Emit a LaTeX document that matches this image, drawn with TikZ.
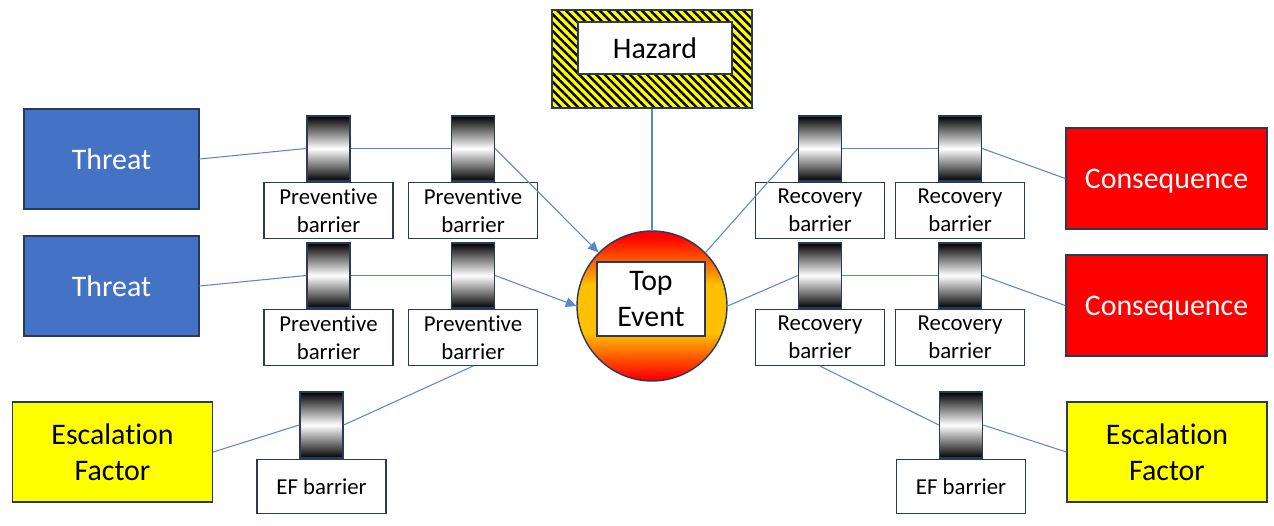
\documentclass[tikz,border=0pt]{standalone}
\usepackage{fontspec}
\setmainfont{Carlito}[Ligatures=NoCommon]
\usetikzlibrary{arrows.meta,positioning,patterns.meta}
\definecolor{threatblue}{HTML}{4472C4}
\definecolor{edgenavy}{HTML}{2B3A5A}
\definecolor{conred}{HTML}{FF0000}
\definecolor{efyellow}{HTML}{FFFF00}
\definecolor{linkblue}{HTML}{5B86D0}
\definecolor{evgold}{HTML}{FFC000}
\pgfdeclareverticalshading{topevt}{100bp}{color(0bp)=(red); color(26bp)=(red); color(41bp)=(evgold); color(57bp)=(evgold); color(73bp)=(red); color(100bp)=(red)}

\begin{document}
\begin{tikzpicture}[x=0.02cm,y=-0.02cm,
				every node/.style={font=\fontsize{17}{20.7}\selectfont,align=center,inner sep=0pt},
				threat/.style={draw=edgenavy,line width=0.8pt,fill=threatblue,text=white,
						minimum width=3.5cm,minimum height=2.0cm},
				conseq/.style={draw=edgenavy,line width=0.8pt,fill=conred,text=white,
						minimum width=4.02cm,minimum height=2.02cm},
				escal/.style={draw=edgenavy,line width=0.8pt,fill=efyellow,
						minimum width=4.0cm,minimum height=2.0cm},
				hatch/.style={draw=edgenavy,line width=0.8pt,preaction={fill=efyellow},
						pattern={Lines[angle=-45,distance=3.4pt,line width=1.4pt]},pattern color=black,
						minimum width=4.0cm,minimum height=1.96cm},
				plain/.style={draw=edgenavy,line width=0.8pt,fill=white},
				barrier/.style={draw=edgenavy,line width=0.8pt,top color=black,bottom color=black,
						middle color=white,minimum width=0.86cm,minimum height=1.3cm},
				blabel/.style={plain,font=\fontsize{13}{15.9}\selectfont,
						minimum width=2.58cm,minimum height=1.12cm},
				link/.style={linkblue,line width=0.6pt},
				flow/.style={link,-{Triangle[length=6pt,width=5.5pt]}}]

				\useasboundingbox (0,0) rectangle (1274,526);

				\node[hatch] (hzbg) at (652,59) {};
				\node[plain,minimum width=3.08cm,minimum height=1.04cm] (hazard) at (655,48) {Hazard};

				\node[circle,draw=edgenavy,line width=0.8pt,shading=topevt,minimum size=3cm] (tev) at (652,306) {};
				\node[plain,minimum width=2.16cm,minimum height=1.48cm] (tevbox) at (651,299) {Top\\Event};

				\node[threat] (thr1) at (111.5,159) {Threat};
				\node[threat] (thr2) at (111.5,286) {Threat};
				\node[escal] (efl) at (112.5,452) {Escalation\\Factor};

				\node[conseq,text depth=0pt] (con1) at (1166.5,178.5) {Consequence};
				\node[conseq,text depth=0pt] (con2) at (1166.5,305.5) {Consequence};
				\node[escal] (efr) at (1167,452) {Escalation\\Factor};

				\node[barrier] (pb11) at (328.5,148.5) {};
				\node[blabel,below=0pt of pb11] (pl11) {Preventive\\barrier};
				\node[barrier] (pb12) at (473,148.5) {};
				\node[blabel,below=0pt of pb12] (pl12) {Preventive\\barrier};
				\node[barrier] (pb21) at (328.5,275.5) {};
				\node[blabel,below=0pt of pb21] (pl21) {Preventive\\barrier};
				\node[barrier] (pb22) at (473,275.5) {};
				\node[blabel,below=0pt of pb22] (pl22) {Preventive\\barrier};

				\node[barrier] (rb11) at (820,148.5) {};
				\node[blabel,below=0pt of rb11] (rl11) {Recovery\\barrier};
				\node[barrier] (rb12) at (960,148.5) {};
				\node[blabel,below=0pt of rb12] (rl12) {Recovery\\barrier};
				\node[barrier] (rb21) at (820,275.5) {};
				\node[blabel,below=0pt of rb21] (rl21) {Recovery\\barrier};
				\node[barrier] (rb22) at (960,275.5) {};
				\node[blabel,below=0pt of rb22] (rl22) {Recovery\\barrier};

				\node[barrier,minimum height=1.32cm] (ebl) at (321.5,425) {};
				\node[blabel,minimum height=1.08cm,below=0pt of ebl] (ell) {EF barrier};
				\node[barrier,minimum height=1.32cm] (ebr) at (961,425) {};
				\node[blabel,minimum height=1.08cm,below=0pt of ebr] (elr) {EF barrier};

				\draw[link] (hzbg.south) -- (tev.north);

				\draw[link] (thr1.east) -- (pb11.west);
				\draw[link] (pb11.east) -- (pb12.west);
				\draw[flow] (pb12.east) -- (tev.north west);
				\draw[link] (thr2.east) -- (pb21.west);
				\draw[link] (pb21.east) -- (pb22.west);
				\draw[flow] (pb22.east) -- (tev.west);

				\draw[link] (tev.north east) -- (rb11.west);
				\draw[link] (rb11.east) -- (rb12.west);
				\draw[link] (rb12.east) -- (con1.west);
				\draw[link] (tev.east) -- (rb21.west);
				\draw[link] (rb21.east) -- (rb22.west);
				\draw[link] (rb22.east) -- (con2.west);

				\draw[link] (efl.east) -- (ebl.west);
				\draw[link] (ebl.east) -- (pl22.south);
				\draw[link] (rl21.south) -- (ebr.west);
				\draw[link] (ebr.east) -- (efr.west);
			\end{tikzpicture}
\end{document}
